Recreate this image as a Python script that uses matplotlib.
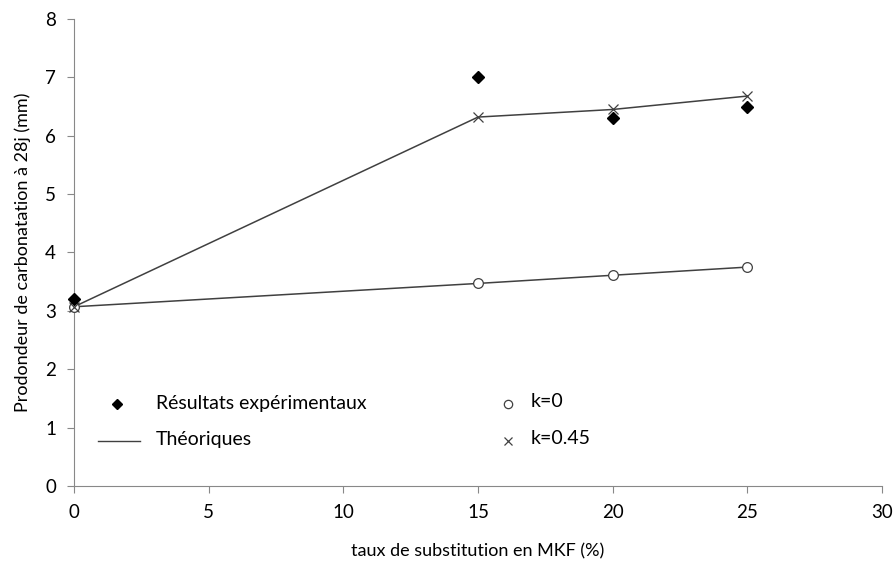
import matplotlib
matplotlib.use("Agg")
import matplotlib.pyplot as plt

plt.rcParams['font.family'] = ['Lato', 'DejaVu Sans']

# taux de substitution (%)
taux = [0, 15, 20, 25]
experimental = [3.2, 7.0, 6.3, 6.5]
k0 = [3.07, 3.47, 3.61, 3.75]
k045 = [3.07, 6.32, 6.45, 6.68]

fig = plt.figure(figsize=(8.95, 5.69), dpi=100)
ax = fig.add_axes([0.0827, 0.1459, 0.9028, 0.8207])

ax.plot(taux, k0, color='#404040', lw=1.1, zorder=2, clip_on=False)
ax.plot(taux, k045, color='#404040', lw=1.1, zorder=2, clip_on=False)
ax.plot(taux, k0, 'o', mfc='white', mec='#404040', ms=7, mew=0.9, zorder=3, clip_on=False)
ax.plot(taux, k045, 'x', color='#404040', ms=7, mew=0.9, zorder=3, clip_on=False)
ax.plot(taux, experimental, 'D', color='black', ms=6, zorder=4, clip_on=False)

ax.set_xlim(0, 30)
ax.set_ylim(0, 8)
ax.set_xticks(range(0, 31, 5))
ax.set_yticks(range(0, 9))

for s in ['top', 'right']:
    ax.spines[s].set_visible(False)
for s in ['left', 'bottom']:
    ax.spines[s].set_color('#888888')
ax.tick_params(direction='out', length=5, color='#888888', labelsize=13.5, pad=8)

ax.set_xlabel("taux de substitution en MKF (%)", fontsize=13, labelpad=16)
ax.set_ylabel("Prodondeur de carbonatation à 28j (mm)", fontsize=13, labelpad=10)

# légende dessinée dans le graphique
ax.plot([1.6], [1.4], 'D', color='black', ms=5.5)
ax.plot([0.9, 2.45], [0.77, 0.77], color='#404040', lw=1.0)
ax.text(3.05, 1.42, "Résultats expérimentaux", fontsize=14, va='center')
ax.text(3.05, 0.79, "Théoriques", fontsize=14, va='center')
ax.plot([16.1], [1.4], 'o', mfc='white', mec='#404040', ms=6, mew=0.9)
ax.plot([16.1], [0.77], 'x', color='#404040', ms=6, mew=0.9)
ax.text(16.95, 1.44, "k=0", fontsize=14, va='center')
ax.text(16.95, 0.81, "k=0.45", fontsize=14, va='center')

fig.savefig("out.png", dpi=100)
